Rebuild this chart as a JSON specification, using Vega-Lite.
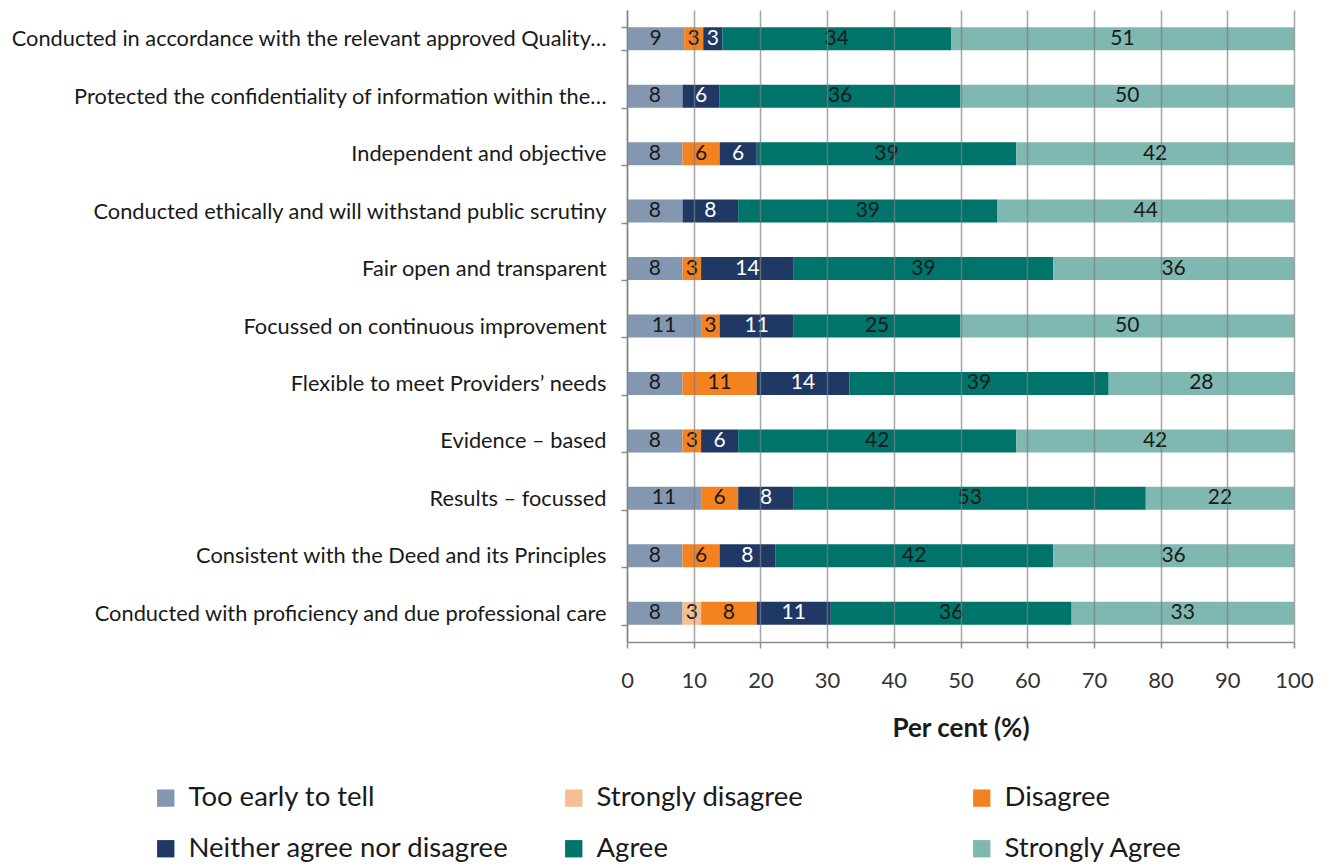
{
  "$schema": "https://vega.github.io/schema/vega-lite/v6.json",
  "width": 667,
  "height": 632,
  "autosize": {"type": "none"},
  "padding": {"left": 627, "top": 10, "right": 41, "bottom": 225},
  "background": "white",
  "config": {
    "font": "Lato",
    "view": {"stroke": null}
  },
  "data": {
    "values": [
      {"item": "Conducted in accordance with the relevant approved Quality…", "response": "Too early to tell", "order": 1, "pct": 8.57},
      {"item": "Conducted in accordance with the relevant approved Quality…", "response": "Disagree", "order": 3, "pct": 2.86},
      {"item": "Conducted in accordance with the relevant approved Quality…", "response": "Neither agree nor disagree", "order": 4, "pct": 2.86},
      {"item": "Conducted in accordance with the relevant approved Quality…", "response": "Agree", "order": 5, "pct": 34.29},
      {"item": "Conducted in accordance with the relevant approved Quality…", "response": "Strongly Agree", "order": 6, "pct": 51.43},

      {"item": "Protected the confidentiality of information within the…", "response": "Too early to tell", "order": 1, "pct": 8.33},
      {"item": "Protected the confidentiality of information within the…", "response": "Neither agree nor disagree", "order": 4, "pct": 5.56},
      {"item": "Protected the confidentiality of information within the…", "response": "Agree", "order": 5, "pct": 36.11},
      {"item": "Protected the confidentiality of information within the…", "response": "Strongly Agree", "order": 6, "pct": 50.0},

      {"item": "Independent and objective", "response": "Too early to tell", "order": 1, "pct": 8.33},
      {"item": "Independent and objective", "response": "Disagree", "order": 3, "pct": 5.56},
      {"item": "Independent and objective", "response": "Neither agree nor disagree", "order": 4, "pct": 5.56},
      {"item": "Independent and objective", "response": "Agree", "order": 5, "pct": 38.89},
      {"item": "Independent and objective", "response": "Strongly Agree", "order": 6, "pct": 41.67},

      {"item": "Conducted ethically and will withstand public scrutiny", "response": "Too early to tell", "order": 1, "pct": 8.33},
      {"item": "Conducted ethically and will withstand public scrutiny", "response": "Neither agree nor disagree", "order": 4, "pct": 8.33},
      {"item": "Conducted ethically and will withstand public scrutiny", "response": "Agree", "order": 5, "pct": 38.89},
      {"item": "Conducted ethically and will withstand public scrutiny", "response": "Strongly Agree", "order": 6, "pct": 44.44},

      {"item": "Fair open and transparent", "response": "Too early to tell", "order": 1, "pct": 8.33},
      {"item": "Fair open and transparent", "response": "Disagree", "order": 3, "pct": 2.78},
      {"item": "Fair open and transparent", "response": "Neither agree nor disagree", "order": 4, "pct": 13.89},
      {"item": "Fair open and transparent", "response": "Agree", "order": 5, "pct": 38.89},
      {"item": "Fair open and transparent", "response": "Strongly Agree", "order": 6, "pct": 36.11},

      {"item": "Focussed on continuous improvement", "response": "Too early to tell", "order": 1, "pct": 11.11},
      {"item": "Focussed on continuous improvement", "response": "Disagree", "order": 3, "pct": 2.78},
      {"item": "Focussed on continuous improvement", "response": "Neither agree nor disagree", "order": 4, "pct": 11.11},
      {"item": "Focussed on continuous improvement", "response": "Agree", "order": 5, "pct": 25.0},
      {"item": "Focussed on continuous improvement", "response": "Strongly Agree", "order": 6, "pct": 50.0},

      {"item": "Flexible to meet Providers’ needs", "response": "Too early to tell", "order": 1, "pct": 8.33},
      {"item": "Flexible to meet Providers’ needs", "response": "Disagree", "order": 3, "pct": 11.11},
      {"item": "Flexible to meet Providers’ needs", "response": "Neither agree nor disagree", "order": 4, "pct": 13.89},
      {"item": "Flexible to meet Providers’ needs", "response": "Agree", "order": 5, "pct": 38.89},
      {"item": "Flexible to meet Providers’ needs", "response": "Strongly Agree", "order": 6, "pct": 27.78},

      {"item": "Evidence – based", "response": "Too early to tell", "order": 1, "pct": 8.33},
      {"item": "Evidence – based", "response": "Disagree", "order": 3, "pct": 2.78},
      {"item": "Evidence – based", "response": "Neither agree nor disagree", "order": 4, "pct": 5.56},
      {"item": "Evidence – based", "response": "Agree", "order": 5, "pct": 41.67},
      {"item": "Evidence – based", "response": "Strongly Agree", "order": 6, "pct": 41.67},

      {"item": "Results – focussed ", "response": "Too early to tell", "order": 1, "pct": 11.11},
      {"item": "Results – focussed ", "response": "Disagree", "order": 3, "pct": 5.56},
      {"item": "Results – focussed ", "response": "Neither agree nor disagree", "order": 4, "pct": 8.33},
      {"item": "Results – focussed ", "response": "Agree", "order": 5, "pct": 52.78},
      {"item": "Results – focussed ", "response": "Strongly Agree", "order": 6, "pct": 22.22},

      {"item": "Consistent with the Deed and its Principles", "response": "Too early to tell", "order": 1, "pct": 8.33},
      {"item": "Consistent with the Deed and its Principles", "response": "Disagree", "order": 3, "pct": 5.56},
      {"item": "Consistent with the Deed and its Principles", "response": "Neither agree nor disagree", "order": 4, "pct": 8.33},
      {"item": "Consistent with the Deed and its Principles", "response": "Agree", "order": 5, "pct": 41.67},
      {"item": "Consistent with the Deed and its Principles", "response": "Strongly Agree", "order": 6, "pct": 36.11},

      {"item": "Conducted with proficiency and due professional care", "response": "Too early to tell", "order": 1, "pct": 8.33},
      {"item": "Conducted with proficiency and due professional care", "response": "Strongly disagree", "order": 2, "pct": 2.78},
      {"item": "Conducted with proficiency and due professional care", "response": "Disagree", "order": 3, "pct": 8.33},
      {"item": "Conducted with proficiency and due professional care", "response": "Neither agree nor disagree", "order": 4, "pct": 11.11},
      {"item": "Conducted with proficiency and due professional care", "response": "Agree", "order": 5, "pct": 36.11},
      {"item": "Conducted with proficiency and due professional care", "response": "Strongly Agree", "order": 6, "pct": 33.33}
    ]
  },
  "transform": [
    {"stack": "pct", "groupby": ["item"], "sort": [{"field": "order"}], "as": ["x0", "x1"]},
    {"calculate": "(datum.x0 + datum.x1) / 2", "as": "mid"}
  ],
  "encoding": {
    "y": {
      "field": "item",
      "type": "nominal",
      "sort": null,
      "scale": {"paddingInner": 0.6, "paddingOuter": 0.3},
      "axis": {
        "title": null,
        "tickBand": "extent",
        "tickSize": 6,
        "tickColor": "#8c8c8c",
        "domainColor": "#8c8c8c",
        "domainWidth": 1.5,
        "tickWidth": 1.5,
        "labelFontSize": 21.8,
        "labelColor": "#1a1a1a",
        "labelPadding": 15,
        "labelLimit": 700,
        "grid": false
      }
    }
  },
  "layer": [
    {
      "mark": {"type": "bar"},
      "encoding": {
        "x": {
          "field": "x0",
          "type": "quantitative",
          "scale": {"domain": [0, 100], "nice": false},
          "axis": {
            "title": "Per cent (%)",
            "titleFontSize": 26,
            "titleFontWeight": "bold",
            "titleColor": "#1a1a1a",
            "titlePadding": 24,
            "values": [0, 10, 20, 30, 40, 50, 60, 70, 80, 90, 100],
            "labelFlush": false,
            "labelFontSize": 22,
            "labelColor": "#333333",
            "labelPadding": 22,
            "tickSize": 6,
            "tickColor": "#8c8c8c",
            "tickWidth": 1.5,
            "domainColor": "#8c8c8c",
            "domainWidth": 1.5,
            "grid": true,
            "gridColor": "#7f7f7f",
            "gridOpacity": 0.7,
            "gridWidth": 1.5,
            "zindex": 1
          }
        },
        "x2": {"field": "x1"},
        "color": {
          "field": "response",
          "type": "nominal",
          "scale": {
            "domain": ["Too early to tell", "Strongly disagree", "Disagree", "Neither agree nor disagree", "Agree", "Strongly Agree"],
            "range": ["#8497B0", "#F8BE92", "#F58220", "#1F3864", "#00736A", "#7FB8B0"]
          },
          "legend": {
            "title": null,
            "orient": "none",
            "legendX": -475,
            "legendY": 774,
            "direction": "horizontal",
            "columns": 3,
            "gridAlign": "all",
            "columnPadding": 51,
            "rowPadding": 22,
            "symbolType": "square",
            "symbolSize": 300,
            "symbolStrokeWidth": 0,
            "labelFontSize": 27.5,
            "labelColor": "#1a1a1a",
            "labelOffset": 9,
            "labelLimit": 500,
            "padding": 0
          }
        }
      }
    },
    {
      "mark": {"type": "text", "fontSize": 21, "align": "center", "baseline": "middle"},
      "encoding": {
        "x": {"field": "mid", "type": "quantitative"},
        "text": {"field": "pct", "type": "quantitative", "format": ".0f"},
        "color": {
          "condition": {"test": "datum.response === 'Neither agree nor disagree'", "value": "#ffffff"},
          "value": "#1a1a1a"
        }
      }
    }
  ]
}
